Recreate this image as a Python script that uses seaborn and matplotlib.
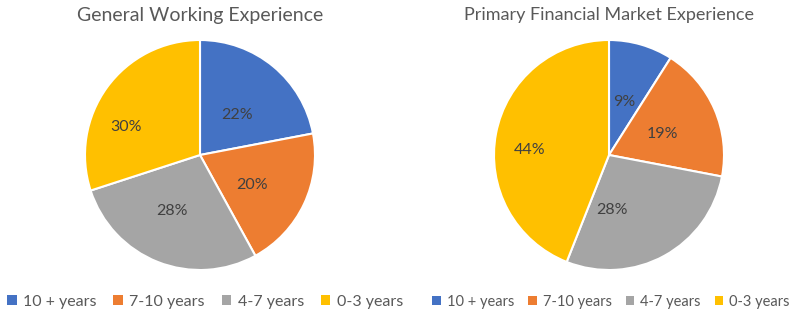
import matplotlib
matplotlib.use("Agg")
import matplotlib.pyplot as plt
import seaborn as sns
import numpy as np
from matplotlib.patches import Patch

categories = ["10 + years", "7-10 years", "4-7 years", "0-3 years"]
general_values = [22, 20, 28, 30]
primary_values = [9, 19, 28, 44]
titles = ["General Working Experience", "Primary Financial Market Experience"]
colors = ["#4472C4", "#ED7D31", "#A5A5A5", "#FFC000"]

sns.set_theme(style="white")
plt.rcParams["font.family"] = ["Lato", "DejaVu Sans"]

W, H = 796, 314
fig = plt.figure(figsize=(W / 100, H / 100), dpi=100)
fig.patch.set_facecolor("white")

centers = [(200, 155), (609, 155)]
# (distance, angle offset in degrees) for each percentage label
label_pos = [[(0.47, -3), (0.52, -5), (0.54, -5), (0.69, 15)],
             [(0.48, 0), (0.50, -2), (0.48, -26), (0.69, 7)]]
title_sizes = [14, 13]
r = 115
for (cx, cy), vals, title, lpos, tsz in zip(centers, [general_values, primary_values],
                                             titles, label_pos, title_sizes):
    ax = fig.add_axes([(cx - r) / W, (H - cy - r) / H, 2 * r / W, 2 * r / H])
    wedges, texts, autotexts = ax.pie(
        vals, colors=colors, startangle=90, counterclock=False,
        autopct=lambda p: f"{p:.0f}%", pctdistance=0.55,
        wedgeprops=dict(edgecolor="white", linewidth=1.5),
        textprops=dict(color="#404040", fontsize=11.5),
        radius=1,
    )
    for w, t, (d, off) in zip(wedges, autotexts, lpos):
        ang = np.deg2rad((w.theta1 + w.theta2) / 2 + off)
        t.set_position((d * np.cos(ang), d * np.sin(ang)))
    ax.set_xlim(-1, 1)
    ax.set_ylim(-1, 1)
    ax.set_aspect("equal")
    ax.axis("off")
    fig.text(cx / W, 1 - 15 / H, title, ha="center", va="center",
             fontsize=tsz, color="#595959")

handles = [Patch(facecolor=c, edgecolor="none") for c in colors]
for x, fs, cs in [(205, 11.5, 1.05), (611, 10.5, 0.95)]:
    fig.legend(handles, categories, loc="center", bbox_to_anchor=(x / W, 1 - 302 / H),
               ncol=4, frameon=False, fontsize=fs, handlelength=0.6, handleheight=0.6,
               handletextpad=0.4, columnspacing=cs, labelcolor="#595959",
               borderpad=0, borderaxespad=0)

fig.savefig("out.png", dpi=100)
